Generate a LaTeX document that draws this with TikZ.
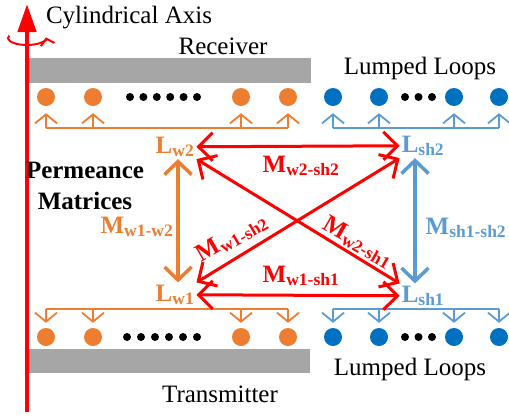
\documentclass[tikz,border=0pt]{standalone}
\usepackage{fontspec}
\setmainfont{Liberation Serif}
\usetikzlibrary{arrows.meta}
\definecolor{wcol}{HTML}{ED7D31}
\definecolor{shcol}{HTML}{0070C0}
\definecolor{shlight}{HTML}{5B9BD5}
\definecolor{barcol}{HTML}{A6A6A6}
\newcommand{\Lbl}[2]{#1\textsubscript{#2}}
\tikzset{
  txt/.style={font=\fontsize{25}{31}\selectfont, inner sep=0pt},
  boldtxt/.style={font=\fontsize{25}{31}\selectfont\bfseries, inner sep=2pt},
  wloop/.style={circle, fill=wcol, inner sep=0pt, minimum size=18pt},
  shloop/.style={circle, fill=shcol, inner sep=0pt, minimum size=18pt},
  busw/.style={draw=wcol, line width=1.8pt},
  bussh/.style={draw=shlight, line width=1.8pt},
  tobus/.style={-{Straight Barb[length=9pt,width=22pt]}},
  mut/.style={draw=red, line width=3pt, {Straight Barb[length=14pt,width=28pt]}-{Straight Barb[length=14pt,width=28pt]}},
  selfm/.style={line width=3.5pt, {Straight Barb[length=13pt,width=27pt]}-{Straight Barb[length=13pt,width=27pt]}},
}
\begin{document}
\begin{tikzpicture}[x=1pt, y=-1pt]
\useasboundingbox (0,0) rectangle (509,418);
% receiver and transmitter
\fill[barcol] (29,58) rectangle (311,83);
\fill[barcol] (29,349) rectangle (310,373);

% rotation around the axis
\draw[red, line width=2pt, -{Straight Barb[length=6pt,width=14pt]}] (27,38) ++(200:19 and 7) arc[start angle=200, end angle=-5, x radius=19, y radius=7];
\coordinate (axisbot) at (27,412);
\coordinate (axistop) at (27,4);
\draw[red, line width=4.5pt, -{Triangle[length=28pt,width=18pt]}] (axisbot) -- (axistop);

% loops on the receiver side
\node[wloop] (wt1) at (46,97) {};
\node[wloop] (wt2) at (93,97) {};
\node[wloop] (wt3) at (241,97) {};
\node[wloop] (wt4) at (288,97) {};
\node[shloop] (st1) at (333,97) {};
\node[shloop] (st2) at (379,97) {};
\node[shloop] (st3) at (454,97) {};
\node[shloop] (st4) at (499,97) {};
\fill (130,97) circle (4) (143.4,97) circle (4) (156.8,97) circle (4) (170.2,97) circle (4) (183.6,97) circle (4) (197,97) circle (4);
\fill (405,97) circle (4) (418.5,97) circle (4) (432,97) circle (4);

% loops on the transmitter side
\node[wloop] (wb1) at (46,337) {};
\node[wloop] (wb2) at (93,337) {};
\node[wloop] (wb3) at (241,337) {};
\node[wloop] (wb4) at (288,337) {};
\node[shloop] (sb1) at (333,337) {};
\node[shloop] (sb2) at (379,337) {};
\node[shloop] (sb3) at (454,337) {};
\node[shloop] (sb4) at (499,337) {};
\fill (127,337) circle (4) (141,337) circle (4) (155,337) circle (4) (169,337) circle (4) (183,337) circle (4) (197,337) circle (4);
\fill (405,337) circle (4) (418.5,337) circle (4) (432,337) circle (4);

% buses to the loops
\coordinate (topbus) at (0,128);
\coordinate (botbus) at (0,309);
\draw[busw] (wt1 |- topbus) -- (wt4 |- topbus);
\draw[busw, tobus, shorten >=7pt] (wt1 |- topbus) -- (wt1);
\draw[busw, tobus, shorten >=7pt] (wt2 |- topbus) -- (wt2);
\draw[busw, tobus, shorten >=7pt] (wt3 |- topbus) -- (wt3);
\draw[busw, tobus, shorten >=7pt] (wt4 |- topbus) -- (wt4);
\draw[bussh] (st1 |- topbus) -- (st4 |- topbus);
\draw[bussh, tobus, shorten >=7pt] (st1 |- topbus) -- (st1);
\draw[bussh, tobus, shorten >=7pt] (st2 |- topbus) -- (st2);
\draw[bussh, tobus, shorten >=7pt] (st3 |- topbus) -- (st3);
\draw[bussh, tobus, shorten >=7pt] (st4 |- topbus) -- (st4);
\draw[busw] (wb1 |- botbus) -- (wb4 |- botbus);
\draw[busw, tobus, shorten >=5pt] (wb1 |- botbus) -- (wb1);
\draw[busw, tobus, shorten >=5pt] (wb2 |- botbus) -- (wb2);
\draw[busw, tobus, shorten >=5pt] (wb3 |- botbus) -- (wb3);
\draw[busw, tobus, shorten >=5pt] (wb4 |- botbus) -- (wb4);
\draw[bussh] (sb1 |- botbus) -- (sb4 |- botbus);
\draw[bussh, tobus, shorten >=5pt] (sb1 |- botbus) -- (sb1);
\draw[bussh, tobus, shorten >=5pt] (sb2 |- botbus) -- (sb2);
\draw[bussh, tobus, shorten >=5pt] (sb3 |- botbus) -- (sb3);
\draw[bussh, tobus, shorten >=5pt] (sb4 |- botbus) -- (sb4);

% texts
\node[txt, anchor=base] (axislbl) at (129,23) {Cylindrical Axis};
\node[txt, anchor=base] (rxlbl) at (223,54) {Receiver};
\node[txt, anchor=base] (toploops) at (420,74) {Lumped Loops};
\node[txt, anchor=base] (botloops) at (410,375) {Lumped Loops};
\node[txt, anchor=base] (txlbl) at (220,402) {Transmitter};
\node[boldtxt, align=center] (perm) at (85,186) {Permeance\\Matrices};

% self and mutual permeances
\node[boldtxt, text=wcol, anchor=base] (Lw2) at (175,153) {\Lbl{L}{w2}};
\node[boldtxt, text=wcol, anchor=base] (Lw1) at (175,301) {\Lbl{L}{w1}};
\node[boldtxt, text=shlight, anchor=base] (Lsh2) at (423,152) {\Lbl{L}{sh2}};
\node[boldtxt, text=shlight, anchor=base] (Lsh1) at (423,302) {\Lbl{L}{sh1}};

\draw[mut] (Lw2.east) -- (Lsh2.west);
\draw[mut] (Lw1.east) -- (Lsh1.west);
\draw[mut] (Lw2.south east) -- (Lsh1.north west);
\draw[mut] (Lw1.north east) -- (Lsh2.south west);
\draw[selfm, wcol] ([xshift=3pt]Lw2.south) -- ([xshift=3pt]Lw1.north);
\draw[selfm, shlight] ([xshift=-8pt]Lsh2.south) -- ([xshift=-8pt]Lsh1.north);

\node[boldtxt, text=red] (Mw2sh2) at (301,166) {\Lbl{M}{w2-sh2}};
\node[boldtxt, text=red] (Mw1sh1) at (301,276) {\Lbl{M}{w1-sh1}};
\node[boldtxt, text=red, rotate=-30] (Mw2sh1) at (358,242) {\Lbl{M}{w2-sh1}};
\node[boldtxt, text=red, rotate=30] (Mw1sh2) at (232,238) {\Lbl{M}{w1-sh2}};
\node[boldtxt, text=wcol] (Mw1w2) at (137,227) {\Lbl{M}{w1-w2}};
\node[boldtxt, text=shlight] (Msh) at (466,228) {\Lbl{M}{sh1-sh2}};
\end{tikzpicture}
\end{document}
